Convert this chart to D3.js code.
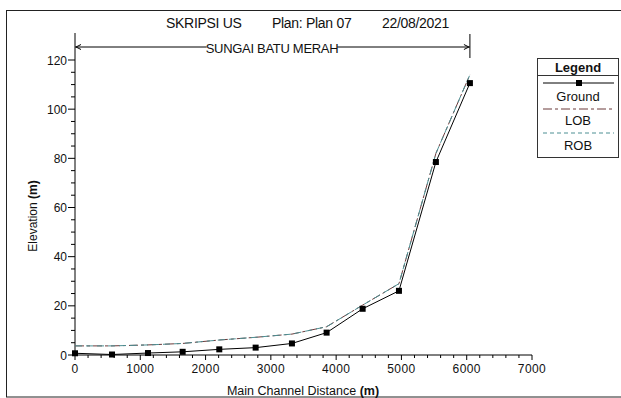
<!DOCTYPE html>
<html><head><meta charset="utf-8">
<script src="https://cdn.jsdelivr.net/npm/d3@7"></script>
<style>
html,body{margin:0;padding:0;background:#fff;}
svg{display:block;font-family:"Liberation Sans",Arial,sans-serif;}
</style></head>
<body>
<svg id="c" width="621" height="398"></svg>
<script>
const distances = [0, 567, 1118, 1649, 2210, 2767, 3323, 3854, 4406, 4962, 5528, 6049];
const ground = [0.7, 0.2, 0.8, 1.3, 2.3, 3.0, 4.7, 9.1, 18.8, 26.1, 78.5, 110.6];
const lob = [3.7, 3.7, 4.1, 4.7, 6.1, 7.2, 8.5, 11.5, 20.3, 29, 82, 114];
const rob = [3.7, 3.7, 4.1, 4.7, 6.1, 7.2, 8.5, 11.5, 20.3, 29, 82, 114];
const xTicks = [0, 1000, 2000, 3000, 4000, 5000, 6000, 7000];
const yTicks = [0, 20, 40, 60, 80, 100, 120];
const titleParts = ["SKRIPSI US", "Plan: Plan 07", "22/08/2021"];
const reachName = "SUNGAI BATU MERAH";
const legendItems = ["Ground", "LOB", "ROB"];

const svg = d3.select("#c");
const x = d3.scaleLinear().domain([0, 7000]).range([75, 532]);
const y = d3.scaleLinear().domain([0, 120]).range([355, 60]);

// frame
svg.append("rect").attr("x", 6.5).attr("y", 10.5).attr("width", 630).attr("height", 386.5)
  .attr("fill", "none").attr("stroke", "#222").attr("stroke-width", 1);

// title
const tx = [166, 272, 382];
titleParts.forEach((t, i) => {
  svg.append("text").attr("x", tx[i]).attr("y", 28).attr("font-size", 14).attr("fill", "#111")
    .attr("letter-spacing", -0.3).text(t);
});

// x axis
const xAxisG = svg.append("g").attr("transform", "translate(0,355)");
xAxisG.append("line").attr("x1", 75).attr("x2", 532).attr("stroke", "#000");
d3.range(0, 7001, 200).forEach(v => {
  const major = v % 1000 === 0;
  xAxisG.append("line").attr("x1", x(v)).attr("x2", x(v)).attr("y1", 0).attr("y2", major ? 5 : 3).attr("stroke", "#000");
});
xTicks.forEach(v => {
  xAxisG.append("text").attr("x", x(v)).attr("y", 18).attr("text-anchor", "middle")
    .attr("font-size", 12).attr("letter-spacing", 0.4).attr("fill", "#111").text(v);
});
const xt = svg.append("text").attr("x", 303).attr("y", 395).attr("text-anchor", "middle")
  .attr("font-size", 12.5).attr("fill", "#111");
xt.append("tspan").text("Main Channel Distance ");
xt.append("tspan").attr("font-weight", "bold").text("(m)");

// y axis
const yAxisG = svg.append("g");
yAxisG.append("line").attr("x1", 75).attr("x2", 75).attr("y1", 33).attr("y2", 355).attr("stroke", "#000");
d3.range(0, 121, 5).forEach(v => {
  const major = v % 20 === 0;
  yAxisG.append("line").attr("x1", major ? 68 : 71).attr("x2", 75).attr("y1", y(v)).attr("y2", y(v)).attr("stroke", "#000");
});
yTicks.forEach(v => {
  yAxisG.append("text").attr("x", 67).attr("y", y(v) + 4.5).attr("text-anchor", "end")
    .attr("font-size", 12).attr("fill", "#111").text(v);
});
const yt = svg.append("text").attr("transform", "translate(37,216) rotate(-90)")
  .attr("text-anchor", "middle").attr("font-size", 12).attr("fill", "#111");
yt.append("tspan").text("Elevation ");
yt.append("tspan").attr("font-weight", "bold").text("(m)");

// reach bracket
const bx1 = x(distances[0]), bx2 = x(distances[distances.length - 1]), by = 47;
svg.append("line").attr("x1", bx1).attr("x2", bx2).attr("y1", by).attr("y2", by).attr("stroke", "#000");
svg.append("line").attr("x1", bx2).attr("x2", bx2).attr("y1", 34).attr("y2", 58).attr("stroke", "#000");
svg.append("path").attr("d", `M${bx1 + 6},${by - 2.5}L${bx1 + 1},${by}L${bx1 + 6},${by + 2.5}`).attr("fill", "none").attr("stroke", "#000");
svg.append("path").attr("d", `M${bx2 - 6},${by - 2.5}L${bx2 - 1},${by}L${bx2 - 6},${by + 2.5}`).attr("fill", "none").attr("stroke", "#000");
const rt = svg.append("text").attr("x", 272).attr("y", 53).attr("text-anchor", "middle")
  .attr("font-size", 13).attr("letter-spacing", -0.3).attr("fill", "#111").text(reachName);
const bb = rt.node().getBBox();
svg.append("rect").attr("x", bb.x + 1).attr("y", by - 1.5).attr("width", bb.width - 2).attr("height", 3).attr("fill", "#fff");
rt.raise();

// lines
const mk = arr => d3.line().x((d, i) => x(distances[i])).y(d => y(d))(arr);
svg.append("path").attr("d", mk(lob)).attr("fill", "none").attr("stroke", "#6b3a3a").attr("stroke-width", 1).attr("stroke-dasharray", "9,3,3,3");
svg.append("path").attr("d", mk(rob)).attr("fill", "none").attr("stroke", "#4d8f93").attr("stroke-width", 1).attr("stroke-dasharray", "7,4");
svg.append("path").attr("d", mk(ground)).attr("fill", "none").attr("stroke", "#000").attr("stroke-width", 1);
svg.selectAll("rect.mk").data(ground).enter().append("rect").attr("class", "mk")
  .attr("x", (d, i) => x(distances[i]) - 3).attr("y", d => y(d) - 3).attr("width", 6).attr("height", 6).attr("fill", "#000");

// legend
const lg = svg.append("g");
lg.append("rect").attr("x", 537.5).attr("y", 58.5).attr("width", 81).attr("height", 99).attr("fill", "#fff").attr("stroke", "#333");
lg.append("line").attr("x1", 537.5).attr("x2", 618.5).attr("y1", 75.5).attr("y2", 75.5).attr("stroke", "#333");
lg.append("text").attr("x", 578).attr("y", 72).attr("text-anchor", "middle").attr("font-size", 13).attr("font-weight", "bold").attr("fill", "#111").text("Legend");
const lineY = [83, 109, 133], textY = [101, 125, 150];
const styles = [{c: "#000", d: null}, {c: "#6b3a3a", d: "9,3,3,3"}, {c: "#4d8f93", d: "4,3"}];
legendItems.forEach((t, i) => {
  const l = lg.append("line").attr("x1", 543).attr("x2", 614).attr("y1", lineY[i]).attr("y2", lineY[i]).attr("stroke", styles[i].c);
  if (styles[i].d) l.attr("stroke-dasharray", styles[i].d);
  if (i === 0) lg.append("rect").attr("x", 576).attr("y", lineY[i] - 3).attr("width", 6).attr("height", 6).attr("fill", "#000");
  lg.append("text").attr("x", 578).attr("y", textY[i]).attr("text-anchor", "middle").attr("font-size", 13).attr("fill", "#111").text(t);
});
</script>
</body></html>
